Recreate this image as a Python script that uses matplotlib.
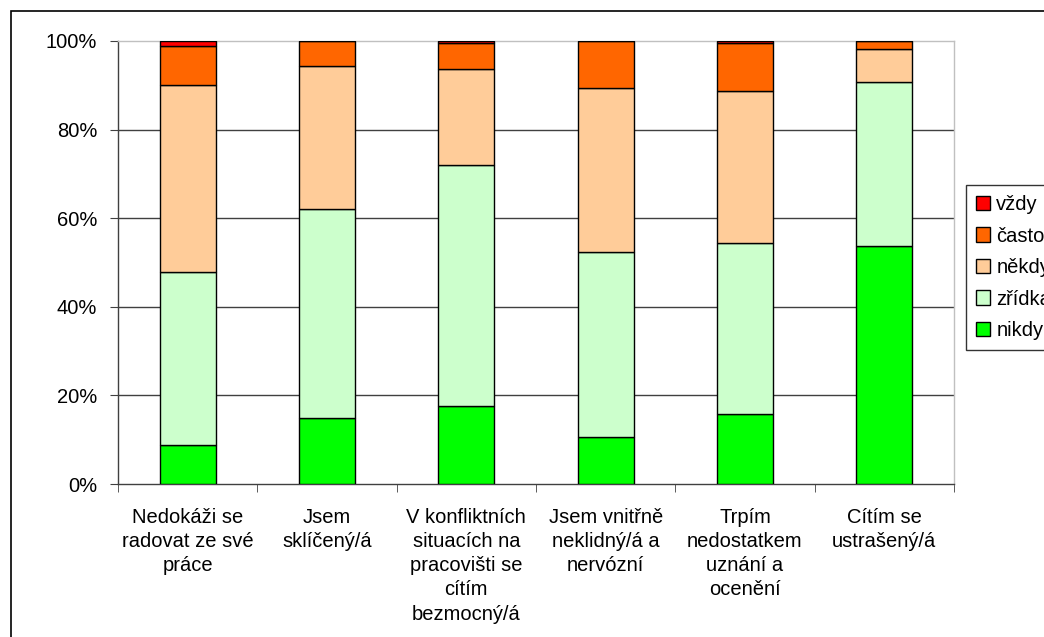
import matplotlib
matplotlib.use("Agg")
import matplotlib.pyplot as plt
from matplotlib.patches import Rectangle, Patch
from matplotlib.ticker import FixedLocator, NullFormatter
import numpy as np

plt.rcParams['font.family'] = ['Liberation Sans', 'DejaVu Sans']

categories = [
    "Nedokáži se\nradovat ze své\npráce",
    "Jsem\nsklíčený/á",
    "V konfliktních\nsituacích na\npracovišti se\ncítím\nbezmocný/á",
    "Jsem vnitřně\nneklidný/á a\nnervózní",
    "Trpím\nnedostatkem\nuznání a\nocenění",
    "Cítím se\nustrašený/á",
]
series_names = ["nikdy", "zřídka", "někdy", "často", "vždy"]
nikdy = [8.7, 14.8, 17.7, 10.7, 15.7, 53.8]
zridka = [39.2, 47.2, 54.3, 41.7, 38.8, 36.9]
nekdy = [42.2, 32.3, 21.6, 37.1, 34.2, 7.5]
casto = [8.7, 5.7, 5.9, 10.5, 10.8, 1.8]
vzdy = [1.2, 0.0, 0.5, 0.0, 0.5, 0.0]
y_ticks = [0, 20, 40, 60, 80, 100]
y_labels = ["0%", "20%", "40%", "60%", "80%", "100%"]

colors = ["#00FF00", "#CCFFCC", "#FFCC99", "#FF6600", "#FF0000"]
series = [nikdy, zridka, nekdy, casto, vzdy]

FS = 14.5

fig = plt.figure(figsize=(10.44, 6.37), dpi=100)
ax = fig.add_axes([118/1044, 1-484/637, (954-118)/1044, (484-41)/637])

x = np.arange(len(categories))
bottom = np.zeros(len(categories))
handles = []
for name, vals, col in zip(series_names, series, colors):
    v = np.array(vals)
    ax.bar(x, v, bottom=bottom, width=0.4, color=col, edgecolor="black",
           linewidth=1.0, zorder=3)
    bottom += v
    handles.append(Patch(facecolor=col, edgecolor="black", linewidth=1.0, label=name))

ax.set_xlim(-0.5, len(categories) - 0.5)
ax.set_ylim(0, 100)
ax.set_yticks(y_ticks)
ax.set_yticklabels(y_labels, fontsize=FS)
for yv in y_ticks[1:-1]:
    ax.axhline(yv, color="#404040", linewidth=1.0, zorder=1)

ax.xaxis.set_major_locator(FixedLocator(x))
ax.set_xticklabels(categories, fontsize=FS, linespacing=1.35)
ax.tick_params(axis="x", which="major", length=0, pad=17)
ax.xaxis.set_minor_locator(FixedLocator(np.arange(-0.5, len(categories), 1.0)))
ax.xaxis.set_minor_formatter(NullFormatter())
ax.tick_params(axis="x", which="minor", length=6, color="#404040", direction="out")
ax.tick_params(axis="y", length=6, color="#404040", direction="out", pad=9)

for s in ["left", "bottom"]:
    ax.spines[s].set_color("#404040")
    ax.spines[s].set_linewidth(1.0)
for s in ["top", "right"]:
    ax.spines[s].set_color("#c0c0c0")
    ax.spines[s].set_linewidth(1.0)

leg = fig.legend(handles=handles[::-1], loc="upper left",
                 bbox_to_anchor=(966/1044, 1-185/637), fontsize=FS,
                 frameon=True, fancybox=False, edgecolor="black",
                 handlelength=0.7, handleheight=0.7, handletextpad=0.3,
                 labelspacing=0.62, borderpad=0.5, borderaxespad=0)
leg.get_frame().set_linewidth(1.0)

frame = Rectangle((11/1044, -0.2), 1.5, 1.2 - 11/637, transform=fig.transFigure,
                  fill=False, edgecolor="black", linewidth=1.2, clip_on=False)
fig.add_artist(frame)

fig.savefig("out.png", dpi=100)
